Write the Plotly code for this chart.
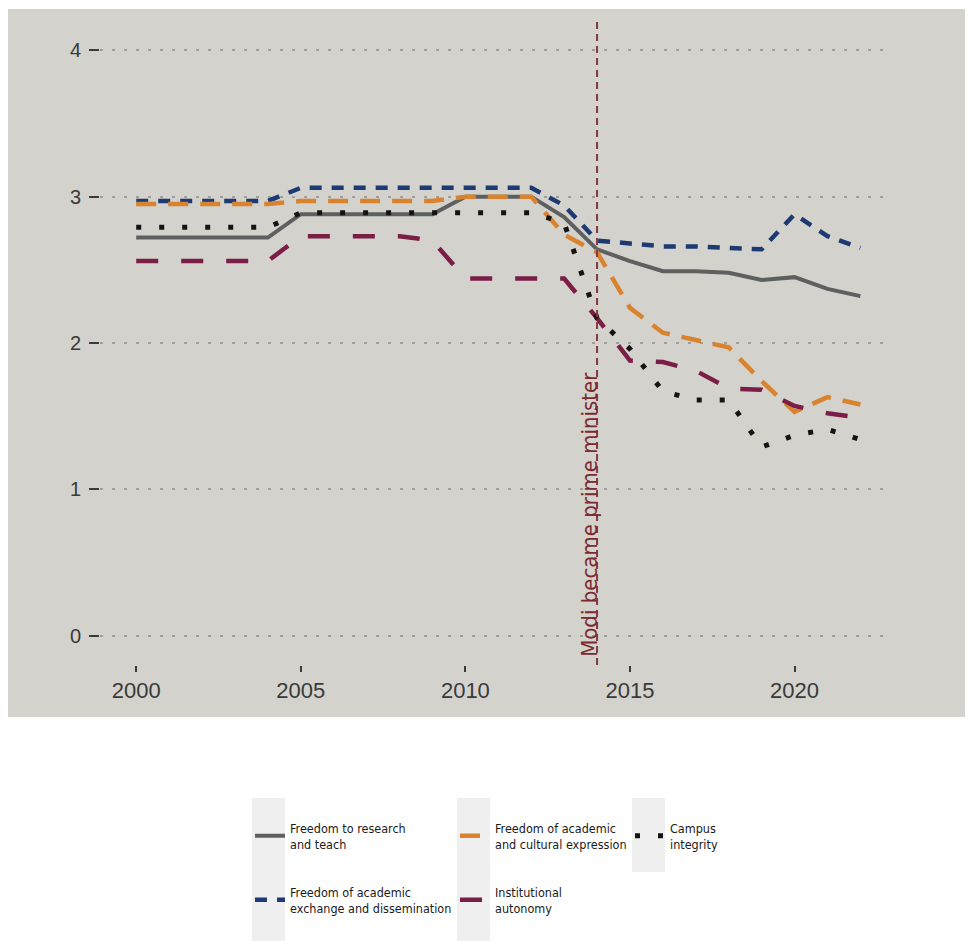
import plotly.graph_objects as go

years = list(range(2000, 2023))

research = [2.72, 2.72, 2.72, 2.72, 2.72, 2.88, 2.88, 2.88, 2.88, 2.88, 3.00, 3.00, 3.00,
            2.86, 2.64, 2.56, 2.49, 2.49, 2.48, 2.43, 2.45, 2.37, 2.32]
exchange = [2.97, 2.97, 2.97, 2.97, 2.97, 3.06, 3.06, 3.06, 3.06, 3.06, 3.06, 3.06, 3.06,
            2.94, 2.70, 2.68, 2.66, 2.66, 2.65, 2.64, 2.88, 2.73, 2.65]
cultural = [2.95, 2.95, 2.95, 2.95, 2.95, 2.97, 2.97, 2.97, 2.97, 2.97, 3.00, 3.00, 3.00,
            2.74, 2.62, 2.24, 2.07, 2.02, 1.97, 1.74, 1.53, 1.63, 1.58]
autonomy = [2.56, 2.56, 2.56, 2.56, 2.56, 2.73, 2.73, 2.73, 2.73, 2.70, 2.44, 2.44, 2.44,
            2.44, 2.17, 1.88, 1.87, 1.81, 1.69, 1.68, 1.57, 1.52, 1.49]
campus = [2.79, 2.79, 2.79, 2.79, 2.79, 2.89, 2.89, 2.89, 2.89, 2.89, 2.89, 2.89, 2.89,
          2.82, 2.17, 1.96, 1.67, 1.61, 1.61, 1.29, 1.37, 1.41, 1.34]

series_names = ["Freedom to research<br>and teach",
                "Freedom of academic<br>exchange and dissemination",
                "Freedom of academic<br>and cultural expression",
                "Institutional<br>autonomy",
                "Campus<br>integrity"]

x_ticks = [2000, 2005, 2010, 2015, 2020]
y_ticks = [0, 1, 2, 3, 4]
event_year = 2014
event_label = "Modi became prime minister"

NARROW = "DejaVu Sans Condensed, Liberation Sans Narrow, Arial Narrow, sans-serif"
REG = "Liberation Sans, Arial, Helvetica, sans-serif"

# page body has an 8px margin; work in reference-pixel coordinates and shift
OFF = 8
W, H = 973 - OFF, 941 - OFF
L, R = 100 - OFF, 83
T = 21 - OFF
PLOT_BOTTOM = 665 - OFF
B = H - PLOT_BOTTOM
PW, PH = W - L - R, PLOT_BOTTOM - T


def px(xp):
    return (xp - OFF - L) / PW


def py(yp):
    return (PLOT_BOTTOM - (yp - OFF)) / PH


fig = go.Figure()

styles = [
    (research, "#5e5f5f", "solid", 4, "legend"),
    (exchange, "#1d3a72", "12px,10px", 4.5, "legend2"),
    (cultural, "#d9832f", "20px,12px", 4.5, "legend3"),
    (autonomy, "#7a1d47", "22px,23px", 4.5, "legend4"),
    (campus, "#141414", "5px,18px", 5, "legend5"),
]

for (vals, color, dash, width, leg), name in zip(styles, series_names):
    fig.add_trace(go.Scatter(
        x=years, y=vals, mode="lines", name=name,
        line=dict(color=color, dash=dash, width=width),
        legend=leg, hoverinfo="skip",
    ))

shapes = []
# photographed panel background
shapes.append(dict(type="rect", xref="paper", yref="paper",
                   x0=px(8), x1=px(973), y0=py(717), y1=py(9),
                   fillcolor="#d3d2cd", line=dict(width=0), layer="below"))
# legend key boxes
for (x0, y0, y1) in [(252, 798, 941), (457, 798, 941), (632, 798, 872)]:
    shapes.append(dict(type="rect", xref="paper", yref="paper",
                       x0=px(x0), x1=px(x0 + 33), y0=py(y1), y1=py(y0),
                       fillcolor="#efefef", line=dict(width=0), layer="below"))
# event line
shapes.append(dict(type="line", xref="x", yref="paper",
                   x0=event_year, x1=event_year, y0=0, y1=1,
                   line=dict(color="#853a3c", width=2, dash="7px,5px"), layer="above"))

fig.update_layout(
    width=W, height=H,
    margin=dict(l=L, r=R, t=T, b=B),
    paper_bgcolor="white",
    plot_bgcolor="rgba(0,0,0,0)",
    shapes=shapes,
    showlegend=True,
    xaxis=dict(range=[1998.9, 2022.9], tickvals=x_ticks, showgrid=False, zeroline=False,
               ticks="outside", ticklen=6, tickwidth=2, tickcolor="#3a3a3a",
               tickfont=dict(family=REG, size=22, color="#3a3a3a"), showline=False),
    yaxis=dict(range=[-0.2, 4.2], tickvals=y_ticks, showgrid=True, zeroline=False,
               gridcolor="#9f9e9a", gridwidth=2, griddash="3px,9px",
               ticks="outside", ticklen=10, tickwidth=2, tickcolor="#3a3a3a",
               ticklabelstandoff=4,
               tickfont=dict(family=REG, size=20, color="#3a3a3a"), showline=False),
    annotations=[dict(x=event_year, y=0.826, xref="x", yref="y", text=event_label,
                      textangle=-90, showarrow=False, xanchor="center", yanchor="middle",
                      xshift=-7,
                      font=dict(family=NARROW, size=22, color="#7b2a30"))],
)

leg_common = dict(orientation="v", xanchor="left", yanchor="middle",
                  bgcolor="rgba(0,0,0,0)", borderwidth=0,
                  font=dict(family=NARROW, size=12.5, color="#1a1a1a"))
row_y = [py(836), py(900)]
col_x = [px(250), px(455), px(630)]
fig.update_layout(
    legend=dict(x=col_x[0], y=row_y[0], **leg_common),
    legend2=dict(x=col_x[0], y=row_y[1], **leg_common),
    legend3=dict(x=col_x[1], y=row_y[0], **leg_common),
    legend4=dict(x=col_x[1], y=row_y[1], **leg_common),
    legend5=dict(x=col_x[2], y=row_y[0], **leg_common),
)

fig.write_html("out.html")
